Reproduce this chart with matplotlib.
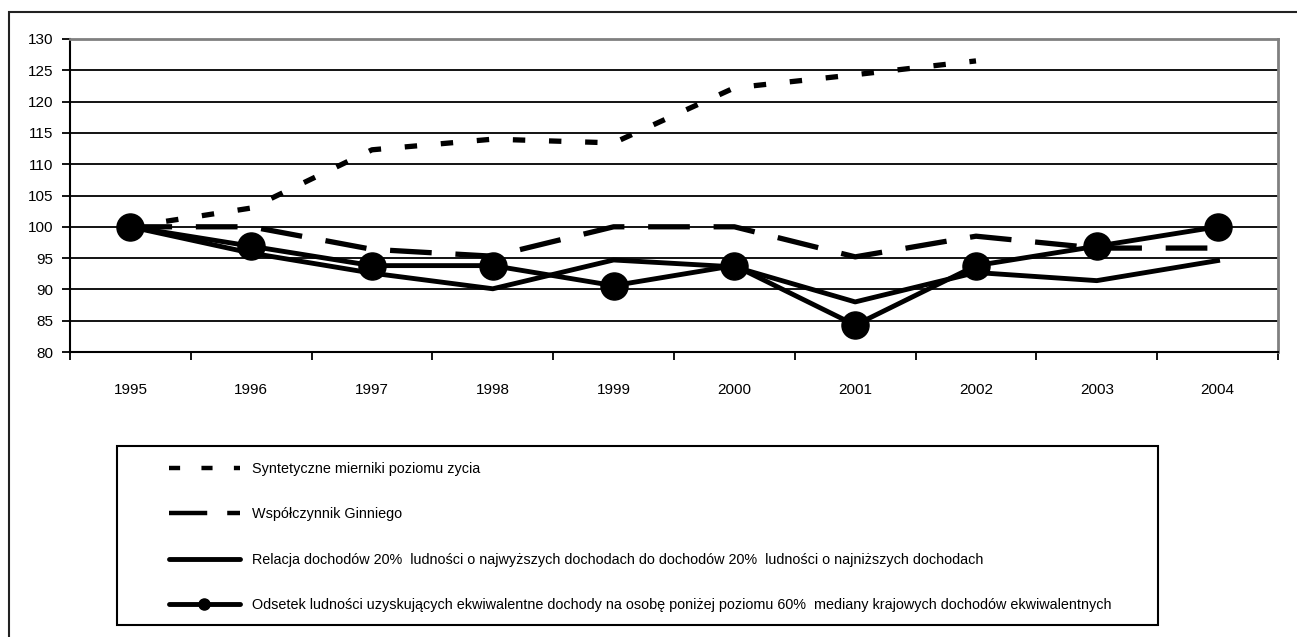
import matplotlib
matplotlib.use("Agg")
import numpy as np
from matplotlib import pyplot as plt
from matplotlib.lines import Line2D
from matplotlib.patches import Rectangle

years = ["1995", "1996", "1997", "1998", "1999", "2000", "2001", "2002", "2003", "2004"]

# Syntetyczne mierniki poziomu zycia (no data after 2002)
synt = [100, 103.0, 112.3, 114.0, 113.4, 122.2, 124.3, 126.5, np.nan, np.nan]
# Wspolczynnik Ginniego
gini = [100, 100, 96.4, 95.3, 100, 100, 95.2, 98.5, 96.6, 96.6]
# Relacja dochodow 20% / 20%
relacja = [100, 95.8, 92.6, 90.1, 94.7, 93.6, 88.0, 92.7, 91.4, 94.6]
# Odsetek ludnosci ponizej 60% mediany
odsetek = [100, 96.9, 93.8, 93.8, 90.6, 93.8, 84.3, 93.8, 96.9, 100]

labels = [
    "Syntetyczne mierniki poziomu zycia",
    "Współczynnik Ginniego",
    "Relacja dochodów 20%  ludności o najwyższych dochodach do dochodów 20%  ludności o najniższych dochodach",
    "Odsetek ludności uzyskujących ekwiwalentne dochody na osobę poniżej poziomu 60%  mediany krajowych dochodów ekwiwalentnych",
]

plt.rcParams["font.family"] = ["Liberation Sans", "DejaVu Sans"]
plt.rcParams["font.size"] = 10.5

W, H = 1297, 637
fig = plt.figure(figsize=(W / 100, H / 100), dpi=100)
ax = fig.add_axes([70 / W, 1 - 352 / H, (1278 - 70) / W, (352 - 39) / H])

x = np.arange(len(years))

ax.plot(x, synt, color="black", lw=3.8, linestyle=(0, (2.35, 4.5)), dash_capstyle="butt", zorder=3)
ax.plot(x, gini, color="black", lw=3.8, linestyle=(0, (7.9, 4.5)), dash_capstyle="butt", zorder=3)
ax.plot(x, relacja, color="black", lw=3.5, zorder=3)
ax.plot(x, odsetek, color="black", lw=3.5, marker="o", markersize=19.5, zorder=4)

ax.set_xlim(-0.5, 9.5)
ax.set_ylim(80, 130)
ax.set_yticks(np.arange(80, 131, 5))
for v in range(85, 130, 5):
    ax.axhline(v, color="black", lw=1.3, zorder=1)

# category ticks at boundaries, labels at centres
ax.set_xticks(np.arange(-0.5, 10, 1))
ax.set_xticklabels([])
ax.set_xticks(x, minor=True)
ax.set_xticklabels(years, minor=True)
ax.tick_params(axis="x", which="major", direction="out", length=6, width=1.3)
ax.tick_params(axis="x", which="minor", length=0, pad=22, labelsize=11)
ax.tick_params(axis="y", direction="out", length=6, width=1.3, pad=6, labelsize=11)

for side in ["top", "right"]:
    ax.spines[side].set_color("#808080")
    ax.spines[side].set_linewidth(2)
for side in ["left", "bottom"]:
    ax.spines[side].set_color("black")
    ax.spines[side].set_linewidth(1.5)

handles = [
    Line2D([], [], color="black", lw=3.2, linestyle=(0, (2.5, 4.8)), dash_capstyle="butt"),
    Line2D([], [], color="black", lw=3.2, linestyle=(0, (8.6, 4.5)), dash_capstyle="butt"),
    Line2D([], [], color="black", lw=3.5, solid_capstyle="round"),
    Line2D([], [], color="black", lw=3.5, solid_capstyle="round", marker="o", markersize=8),
]
leg = fig.legend(
    handles,
    labels,
    loc="upper left",
    bbox_to_anchor=(169 / W, 1 - 462 / H),
    frameon=False,
    handlelength=4.93,
    handletextpad=0.84,
    borderpad=0,
    labelspacing=2.18,
    fontsize=10.35,
    borderaxespad=0,
)

# legend box
fig.patches.append(
    Rectangle((117 / W, 1 - 625 / H), (1158 - 117) / W, (625 - 446) / H,
              transform=fig.transFigure, fill=False, edgecolor="black", lw=1.5)
)

# outer chart frame (open on the right and bottom)
fig.patches.append(
    Rectangle((9 / W, -0.2), 2, 1.2 - 12 / H, transform=fig.transFigure,
              fill=False, edgecolor="#222222", lw=1.5)
)

fig.savefig("out.png", dpi=100)
